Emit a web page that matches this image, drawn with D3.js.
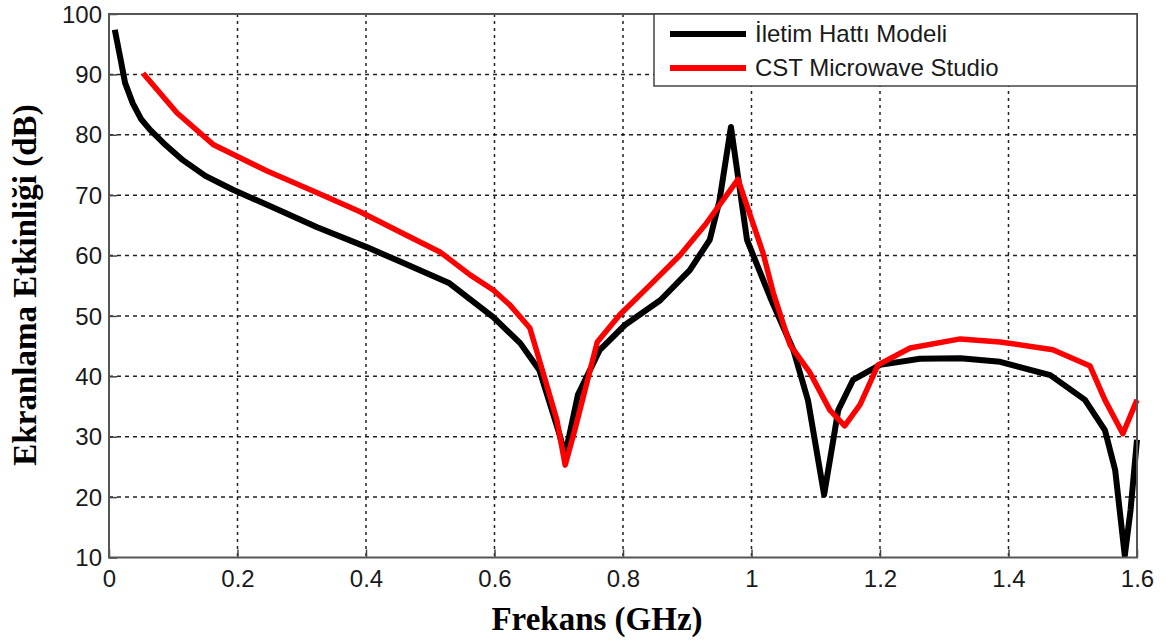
<!DOCTYPE html>
<html>
<head>
<meta charset="utf-8">
<script src="https://cdn.jsdelivr.net/npm/d3@7"></script>
<style>
  html, body { margin: 0; padding: 0; background: #fff; }
  svg { display: block; }
</style>
</head>
<body>
<svg id="chart" width="1166" height="644"></svg>
<script>
// ---- Data ----
const xTicks = [0, 0.2, 0.4, 0.6, 0.8, 1, 1.2, 1.4, 1.6];
const xTickLabels = ["0", "0.2", "0.4", "0.6", "0.8", "1", "1.2", "1.4", "1.6"];
const yTicks = [10, 20, 30, 40, 50, 60, 70, 80, 90, 100];
const yTickLabels = ["10", "20", "30", "40", "50", "60", "70", "80", "90", "100"];

const seriesNames = ["İletim Hattı Modeli", "CST Microwave Studio"];
const seriesColors = ["#000000", "#ff0000"];

// İletim Hattı Modeli (frequency GHz, dB)
const tlFreq = [0.009, 0.018, 0.025, 0.037, 0.05, 0.064, 0.085, 0.115, 0.15, 0.193, 0.246, 0.324, 0.401, 0.453, 0.53, 0.598, 0.64, 0.67, 0.70, 0.71, 0.73, 0.764, 0.803, 0.858, 0.904, 0.935, 0.95, 0.968, 0.993, 1.029, 1.065, 1.088, 1.113, 1.135, 1.158, 1.2, 1.262, 1.325, 1.387, 1.465, 1.519, 1.55, 1.566, 1.581, 1.59, 1.6];
const tlDb   = [97.4, 92.5, 88.6, 85.2, 82.6, 80.8, 78.6, 75.8, 73.2, 70.9, 68.4, 64.7, 61.4, 59, 55.4, 49.8, 45.5, 41, 30.8, 27, 37, 44.4, 48.5, 52.6, 57.6, 62.6, 69, 81.3, 62.6, 53.1, 44.4, 36, 20.4, 34.4, 39.4, 41.9, 42.9, 43, 42.4, 40.2, 36.1, 31.1, 24.5, 10.3, 17.9, 29.5];

// CST Microwave Studio (frequency GHz, dB)
const cstFreq = [0.053, 0.106, 0.162, 0.246, 0.324, 0.39, 0.453, 0.515, 0.562, 0.598, 0.624, 0.655, 0.679, 0.697, 0.71, 0.725, 0.76, 0.795, 0.842, 0.889, 0.928, 0.979, 1.018, 1.034, 1.06, 1.091, 1.122, 1.145, 1.169, 1.197, 1.247, 1.325, 1.387, 1.469, 1.527, 1.55, 1.578, 1.6];
const cstDb   = [90.2, 83.6, 78.4, 74.0, 70.4, 67.3, 63.9, 60.6, 56.8, 54.3, 51.8, 48, 39.4, 32.8, 25.3, 31.1, 45.7, 50.2, 55.1, 60.1, 65.1, 72.6, 60.4, 53.8, 45.2, 40.6, 34.4, 31.8, 35.3, 41.9, 44.7, 46.2, 45.7, 44.4, 41.7, 36.1, 30.5, 36.1];

const xLabel = "Frekans (GHz)";
const yLabel = "Ekranlama Etkinliği (dB)";

// ---- Layout ----
const L = 109, R = 1137, T = 14, B = 557.5;
const svg = d3.select("#chart");

const x = d3.scaleLinear().domain([0, 1.6]).range([L, R]);
const y = d3.scaleLinear().domain([10, 100]).range([B, T]);

// Grid
const grid = svg.append("g");
grid.selectAll("line.vg").data(xTicks.slice(1, -1)).enter().append("line")
  .attr("x1", d => x(d)).attr("x2", d => x(d)).attr("y1", T).attr("y2", B)
  .attr("stroke", "#222").attr("stroke-width", 1.5).attr("stroke-dasharray", "3,4");
grid.selectAll("line.hg").data(yTicks.slice(1, -1)).enter().append("line")
  .attr("x1", L).attr("x2", R).attr("y1", d => y(d)).attr("y2", d => y(d))
  .attr("stroke", "#222").attr("stroke-width", 1.5).attr("stroke-dasharray", "4,4");

// Axes
const xAxis = d3.axisBottom(x).tickValues(xTicks).tickFormat((d, i) => xTickLabels[i]).tickSizeInner(-8).tickSizeOuter(0).tickPadding(12);
const yAxis = d3.axisLeft(y).tickValues(yTicks).tickFormat((d, i) => yTickLabels[i]).tickSizeInner(-8).tickSizeOuter(0).tickPadding(7);

const gx = svg.append("g").attr("transform", `translate(0,${B})`).call(xAxis);
const gy = svg.append("g").attr("transform", `translate(${L},0)`).call(yAxis);
[gx, gy].forEach(g => {
  g.select(".domain").remove();
  g.selectAll(".tick line").attr("stroke", "#444").attr("stroke-width", 1.5);
  g.selectAll(".tick text").attr("fill", "#1a1a1a")
    .style("font-family", "'Liberation Sans', Arial, sans-serif").style("font-size", "24px");
});
gy.selectAll(".tick text").attr("dy", "0.34em");
gx.selectAll(".tick text").attr("dy", "0.72em");

// Lines
const line = d3.line().x(d => x(d[0])).y(d => y(d[1]));
const tlData = tlFreq.map((f, i) => [f, tlDb[i]]);
const cstData = cstFreq.map((f, i) => [f, cstDb[i]]);

svg.append("clipPath").attr("id", "clip").append("rect")
  .attr("x", L).attr("y", T - 4).attr("width", R - L + 3).attr("height", B - T + 4);

svg.append("path").datum(tlData).attr("d", line).attr("fill", "none")
  .attr("stroke", seriesColors[0]).attr("stroke-width", 6).attr("stroke-linejoin", "round")
  .attr("clip-path", "url(#clip)");
svg.append("path").datum(cstData).attr("d", line).attr("fill", "none")
  .attr("stroke", seriesColors[1]).attr("stroke-width", 5.5).attr("stroke-linejoin", "round")
  .attr("clip-path", "url(#clip)");

// Frame
svg.append("rect").attr("x", L).attr("y", T).attr("width", R - L).attr("height", B - T)
  .attr("fill", "none").attr("stroke", "#555").attr("stroke-width", 2);

// Legend
const lg = svg.append("g");
lg.append("rect").attr("x", 654).attr("y", T).attr("width", R - 654).attr("height", 72)
  .attr("fill", "#fff").attr("stroke", "#444").attr("stroke-width", 1.5);
seriesNames.forEach((name, i) => {
  const yy = 34 + i * 34;
  lg.append("line").attr("x1", 670).attr("x2", 746).attr("y1", yy).attr("y2", yy)
    .attr("stroke", seriesColors[i]).attr("stroke-width", 6);
  lg.append("text").attr("x", 755).attr("y", yy).attr("dy", "0.35em")
    .attr("fill", "#1a1a1a")
    .style("font-family", "'Liberation Sans', Arial, sans-serif").style("font-size", "24px")
    .text(name);
});

// Axis titles
svg.append("text").attr("x", (L + R) / 2 - 26).attr("y", 630).attr("text-anchor", "middle")
  .style("font-family", "'Liberation Serif', 'Times New Roman', serif").style("font-weight", "bold")
  .style("font-size", "33px").attr("fill", "#000").text(xLabel);
svg.append("text").attr("transform", `translate(36,${285}) rotate(-90)`).attr("text-anchor", "middle")
  .style("font-family", "'Liberation Serif', 'Times New Roman', serif").style("font-weight", "bold")
  .style("font-size", "33px").attr("fill", "#000").text(yLabel);
</script>
</body>
</html>
